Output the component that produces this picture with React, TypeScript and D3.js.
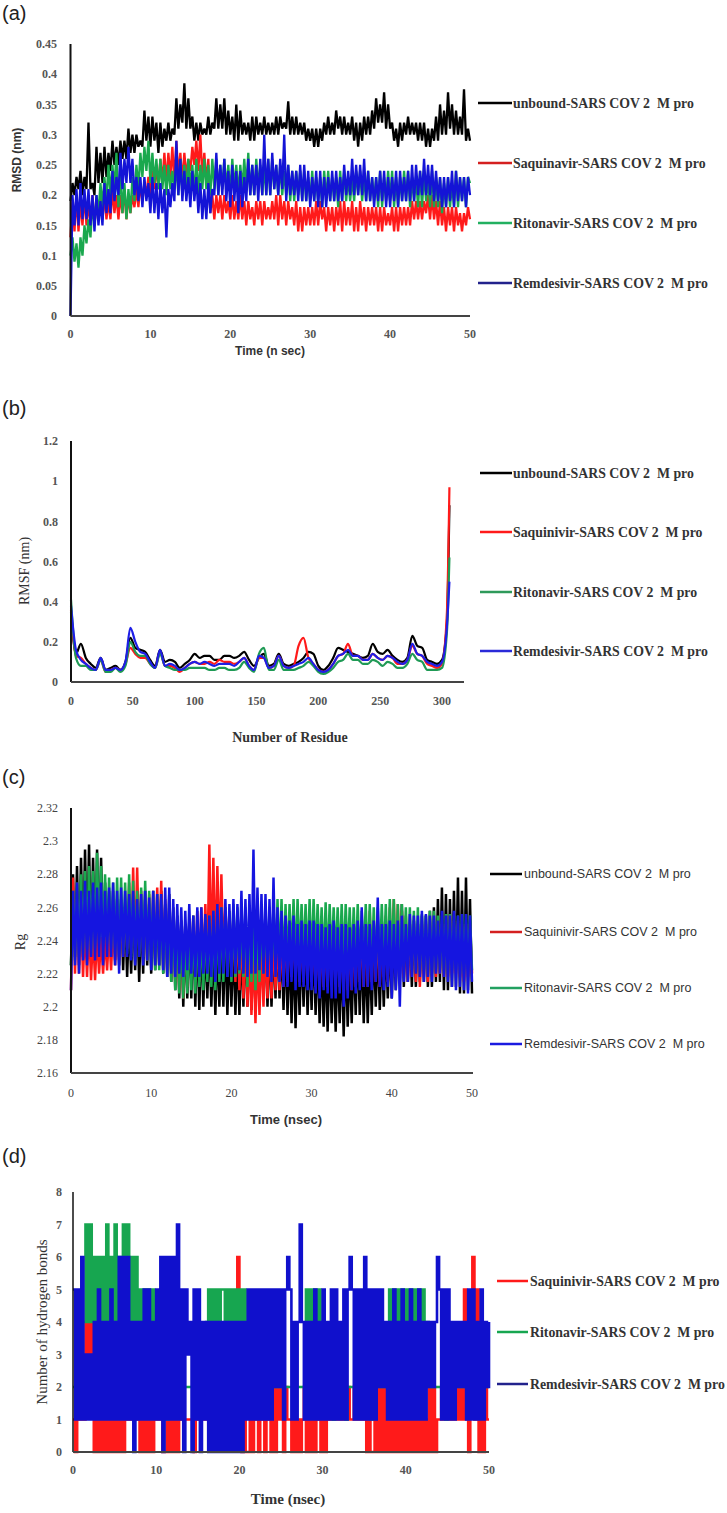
import React from 'react';
import * as d3 from 'd3';

// ---------------- Panel (a) RMSD : time 0..50 ns every 0.25 ns ----------------
const rmsdTime = d3.range(0, 50.001, 0.25);
const rmsdUnbound = [
  0.19, 0.22, 0.20, 0.23, 0.21, 0.24, 0.20, 0.23, 0.21, 0.32, 0.21, 0.22, 0.20, 0.28, 0.22, 0.27, 0.22, 0.28, 0.23, 0.27,
  0.24, 0.29, 0.25, 0.28, 0.25, 0.29, 0.26, 0.29, 0.26, 0.31, 0.27, 0.30, 0.27, 0.30, 0.28, 0.29, 0.28, 0.34, 0.29, 0.33,
  0.28, 0.33, 0.29, 0.32, 0.27, 0.32, 0.28, 0.31, 0.29, 0.32, 0.29, 0.31, 0.30, 0.36, 0.31, 0.35, 0.32, 0.385, 0.31, 0.36,
  0.31, 0.33, 0.29, 0.32, 0.29, 0.32, 0.30, 0.31, 0.30, 0.33, 0.30, 0.32, 0.31, 0.36, 0.31, 0.35, 0.31, 0.36, 0.30, 0.34,
  0.30, 0.33, 0.29, 0.35, 0.29, 0.34, 0.30, 0.32, 0.30, 0.32, 0.29, 0.33, 0.29, 0.33, 0.30, 0.32, 0.30, 0.33, 0.30, 0.32,
  0.30, 0.32, 0.30, 0.33, 0.30, 0.33, 0.31, 0.32, 0.31, 0.355, 0.30, 0.33, 0.30, 0.33, 0.30, 0.32, 0.30, 0.32, 0.29, 0.31,
  0.29, 0.31, 0.28, 0.31, 0.28, 0.31, 0.29, 0.32, 0.30, 0.33, 0.30, 0.32, 0.30, 0.34, 0.31, 0.33, 0.30, 0.33, 0.30, 0.32,
  0.30, 0.33, 0.29, 0.32, 0.28, 0.32, 0.29, 0.33, 0.30, 0.33, 0.30, 0.34, 0.31, 0.36, 0.32, 0.35, 0.32, 0.37, 0.31, 0.35,
  0.31, 0.32, 0.29, 0.31, 0.28, 0.32, 0.29, 0.32, 0.30, 0.33, 0.30, 0.32, 0.30, 0.32, 0.29, 0.32, 0.29, 0.32, 0.28, 0.31,
  0.28, 0.31, 0.29, 0.33, 0.29, 0.35, 0.30, 0.34, 0.30, 0.37, 0.31, 0.35, 0.30, 0.34, 0.30, 0.33, 0.30, 0.375, 0.29, 0.31,
  0.29,
];
const rmsdSaquinavir = [
  0.13, 0.19, 0.14, 0.20, 0.14, 0.19, 0.15, 0.20, 0.15, 0.19, 0.15, 0.20, 0.15, 0.19, 0.16, 0.20, 0.16, 0.20, 0.16, 0.19,
  0.16, 0.21, 0.17, 0.20, 0.16, 0.20, 0.17, 0.21, 0.16, 0.20, 0.17, 0.20, 0.18, 0.21, 0.18, 0.22, 0.19, 0.22, 0.20, 0.23,
  0.20, 0.24, 0.21, 0.25, 0.21, 0.26, 0.22, 0.27, 0.22, 0.27, 0.23, 0.28, 0.22, 0.29, 0.23, 0.27, 0.22, 0.27, 0.23, 0.26,
  0.24, 0.28, 0.25, 0.29, 0.24, 0.30, 0.23, 0.27, 0.22, 0.26, 0.17, 0.20, 0.16, 0.20, 0.17, 0.20, 0.16, 0.20, 0.17, 0.19,
  0.16, 0.20, 0.16, 0.19, 0.16, 0.20, 0.16, 0.19, 0.15, 0.19, 0.16, 0.18, 0.15, 0.19, 0.16, 0.19, 0.15, 0.19, 0.16, 0.18,
  0.16, 0.19, 0.16, 0.20, 0.15, 0.20, 0.16, 0.19, 0.15, 0.19, 0.16, 0.18, 0.15, 0.19, 0.14, 0.18, 0.14, 0.18, 0.15, 0.18,
  0.15, 0.18, 0.15, 0.19, 0.15, 0.19, 0.16, 0.18, 0.14, 0.18, 0.15, 0.18, 0.14, 0.18, 0.15, 0.19, 0.14, 0.19, 0.15, 0.18,
  0.15, 0.19, 0.14, 0.18, 0.14, 0.19, 0.15, 0.18, 0.14, 0.18, 0.15, 0.18, 0.15, 0.18, 0.14, 0.18, 0.14, 0.18, 0.15, 0.17,
  0.15, 0.18, 0.14, 0.18, 0.14, 0.18, 0.15, 0.18, 0.15, 0.18, 0.15, 0.19, 0.16, 0.19, 0.16, 0.19, 0.16, 0.19, 0.17, 0.20,
  0.16, 0.20, 0.16, 0.19, 0.15, 0.19, 0.15, 0.18, 0.14, 0.18, 0.15, 0.18, 0.14, 0.18, 0.15, 0.17, 0.14, 0.17, 0.15, 0.18,
  0.16,
];
const rmsdRitonavir = [
  0.10, 0.13, 0.09, 0.12, 0.08, 0.13, 0.10, 0.15, 0.12, 0.16, 0.13, 0.19, 0.15, 0.20, 0.17, 0.22, 0.18, 0.23, 0.19, 0.25,
  0.20, 0.25, 0.21, 0.27, 0.18, 0.24, 0.17, 0.22, 0.16, 0.21, 0.17, 0.23, 0.19, 0.25, 0.21, 0.27, 0.23, 0.28, 0.24, 0.29,
  0.22, 0.27, 0.22, 0.26, 0.21, 0.26, 0.21, 0.25, 0.20, 0.25, 0.21, 0.24, 0.21, 0.25, 0.20, 0.26, 0.20, 0.25, 0.21, 0.26,
  0.21, 0.25, 0.20, 0.26, 0.20, 0.25, 0.21, 0.26, 0.21, 0.25, 0.20, 0.26, 0.21, 0.26, 0.20, 0.25, 0.21, 0.26, 0.21, 0.25,
  0.20, 0.26, 0.21, 0.25, 0.20, 0.25, 0.21, 0.26, 0.21, 0.27, 0.20, 0.25, 0.20, 0.26, 0.21, 0.25, 0.20, 0.25, 0.20, 0.26,
  0.20, 0.26, 0.21, 0.25, 0.20, 0.25, 0.20, 0.24, 0.20, 0.25, 0.19, 0.24, 0.19, 0.24, 0.20, 0.24, 0.19, 0.24, 0.19, 0.23,
  0.19, 0.24, 0.19, 0.23, 0.19, 0.23, 0.18, 0.24, 0.19, 0.24, 0.19, 0.23, 0.19, 0.23, 0.18, 0.24, 0.19, 0.24, 0.19, 0.23,
  0.19, 0.23, 0.19, 0.24, 0.20, 0.24, 0.19, 0.23, 0.19, 0.24, 0.19, 0.23, 0.19, 0.23, 0.18, 0.24, 0.18, 0.23, 0.19, 0.24,
  0.19, 0.24, 0.18, 0.23, 0.18, 0.23, 0.19, 0.24, 0.19, 0.24, 0.18, 0.23, 0.19, 0.23, 0.18, 0.24, 0.18, 0.24, 0.19, 0.23,
  0.18, 0.24, 0.18, 0.23, 0.18, 0.23, 0.17, 0.22, 0.18, 0.23, 0.18, 0.22, 0.18, 0.24, 0.18, 0.23, 0.19, 0.23, 0.18, 0.23,
  0.22,
];
const rmsdRemdesivir = [
  0.00, 0.20, 0.15, 0.21, 0.15, 0.22, 0.16, 0.21, 0.16, 0.21, 0.15, 0.20, 0.14, 0.20, 0.15, 0.19, 0.15, 0.22, 0.17, 0.21,
  0.17, 0.24, 0.19, 0.23, 0.20, 0.27, 0.21, 0.26, 0.22, 0.28, 0.22, 0.26, 0.20, 0.23, 0.19, 0.23, 0.18, 0.23, 0.19, 0.22,
  0.17, 0.23, 0.17, 0.22, 0.16, 0.22, 0.17, 0.21, 0.13, 0.21, 0.18, 0.22, 0.19, 0.29, 0.20, 0.26, 0.19, 0.24, 0.19, 0.23,
  0.18, 0.24, 0.19, 0.23, 0.17, 0.22, 0.16, 0.21, 0.16, 0.22, 0.17, 0.21, 0.20, 0.27, 0.20, 0.25, 0.20, 0.26, 0.19, 0.24,
  0.18, 0.25, 0.19, 0.24, 0.17, 0.24, 0.18, 0.23, 0.19, 0.26, 0.20, 0.25, 0.20, 0.25, 0.19, 0.26, 0.20, 0.30, 0.20, 0.26,
  0.20, 0.27, 0.21, 0.25, 0.20, 0.26, 0.21, 0.30, 0.19, 0.25, 0.20, 0.24, 0.20, 0.24, 0.19, 0.25, 0.19, 0.25, 0.19, 0.24,
  0.18, 0.23, 0.19, 0.24, 0.18, 0.24, 0.18, 0.23, 0.18, 0.23, 0.19, 0.24, 0.19, 0.24, 0.19, 0.23, 0.19, 0.25, 0.20, 0.24,
  0.20, 0.26, 0.20, 0.25, 0.20, 0.25, 0.20, 0.26, 0.19, 0.24, 0.19, 0.23, 0.18, 0.23, 0.19, 0.24, 0.19, 0.24, 0.18, 0.23,
  0.18, 0.23, 0.19, 0.24, 0.18, 0.24, 0.19, 0.23, 0.19, 0.24, 0.19, 0.25, 0.19, 0.25, 0.20, 0.24, 0.20, 0.26, 0.20, 0.25,
  0.20, 0.25, 0.19, 0.24, 0.19, 0.23, 0.18, 0.23, 0.18, 0.23, 0.19, 0.24, 0.18, 0.24, 0.19, 0.23, 0.19, 0.23, 0.18, 0.23,
  0.20,
];
const rmsdYTicks = [0, 0.05, 0.1, 0.15, 0.2, 0.25, 0.3, 0.35, 0.4, 0.45];
const rmsdYLabels = ['0', '0.05', '0.1', '0.15', '0.2', '0.25', '0.3', '0.35', '0.4', '0.45'];
const timeTicks = [0, 10, 20, 30, 40, 50];
const timeLabels = ['0', '10', '20', '30', '40', '50'];

// ---------------- Panel (b) RMSF : residue ----------------
const rmsfResidue = [...d3.range(0, 305, 4), 306];
const rmsfUnbound = [
  0.35, 0.14, 0.19, 0.12, 0.09, 0.07, 0.12, 0.06, 0.07, 0.08,
  0.06, 0.10, 0.22, 0.17, 0.16, 0.15, 0.11, 0.08, 0.16, 0.10,
  0.11, 0.10, 0.07, 0.09, 0.11, 0.14, 0.12, 0.13, 0.13, 0.11,
  0.11, 0.13, 0.13, 0.12, 0.13, 0.15, 0.11, 0.08, 0.12, 0.14,
  0.08, 0.09, 0.14, 0.09, 0.08, 0.09, 0.10, 0.12, 0.15, 0.14,
  0.08, 0.06, 0.08, 0.12, 0.17, 0.16, 0.15, 0.14, 0.13, 0.12,
  0.13, 0.19, 0.15, 0.14, 0.16, 0.13, 0.11, 0.10, 0.12, 0.23,
  0.18, 0.17, 0.11, 0.10, 0.09, 0.11, 0.30, 0.88,
];
const rmsfSaquinivir = [
  0.36, 0.13, 0.12, 0.09, 0.07, 0.06, 0.11, 0.05, 0.06, 0.07,
  0.06, 0.09, 0.17, 0.14, 0.12, 0.12, 0.09, 0.07, 0.15, 0.08,
  0.08, 0.07, 0.05, 0.07, 0.09, 0.10, 0.09, 0.09, 0.10, 0.09,
  0.11, 0.10, 0.10, 0.09, 0.10, 0.12, 0.08, 0.06, 0.12, 0.12,
  0.07, 0.08, 0.13, 0.08, 0.07, 0.08, 0.18, 0.22, 0.12, 0.09,
  0.06, 0.05, 0.06, 0.09, 0.13, 0.14, 0.19, 0.13, 0.13, 0.11,
  0.11, 0.14, 0.12, 0.11, 0.13, 0.12, 0.09, 0.09, 0.11, 0.18,
  0.14, 0.13, 0.09, 0.08, 0.07, 0.09, 0.35, 0.97,
];
const rmsfRitonavir = [
  0.41, 0.12, 0.08, 0.08, 0.06, 0.06, 0.11, 0.05, 0.05, 0.07,
  0.05, 0.08, 0.20, 0.15, 0.13, 0.13, 0.09, 0.07, 0.14, 0.08,
  0.07, 0.06, 0.06, 0.06, 0.07, 0.07, 0.07, 0.07, 0.06, 0.06,
  0.07, 0.07, 0.06, 0.06, 0.07, 0.10, 0.07, 0.05, 0.14, 0.17,
  0.06, 0.06, 0.11, 0.06, 0.06, 0.06, 0.07, 0.08, 0.10, 0.08,
  0.05, 0.04, 0.05, 0.07, 0.10, 0.11, 0.14, 0.11, 0.11, 0.09,
  0.09, 0.11, 0.10, 0.08, 0.10, 0.09, 0.07, 0.07, 0.09, 0.14,
  0.11, 0.10, 0.06, 0.06, 0.06, 0.07, 0.25, 0.62,
];
const rmsfRemdesivir = [
  0.38, 0.16, 0.11, 0.09, 0.07, 0.06, 0.12, 0.06, 0.06, 0.07,
  0.06, 0.10, 0.27, 0.20, 0.15, 0.14, 0.10, 0.07, 0.16, 0.08,
  0.09, 0.08, 0.06, 0.07, 0.09, 0.10, 0.09, 0.10, 0.09, 0.08,
  0.09, 0.09, 0.09, 0.08, 0.10, 0.12, 0.08, 0.06, 0.13, 0.12,
  0.07, 0.08, 0.13, 0.08, 0.07, 0.08, 0.09, 0.10, 0.12, 0.09,
  0.06, 0.05, 0.06, 0.09, 0.13, 0.14, 0.16, 0.13, 0.13, 0.11,
  0.11, 0.14, 0.12, 0.11, 0.13, 0.12, 0.10, 0.09, 0.11, 0.19,
  0.14, 0.13, 0.10, 0.09, 0.08, 0.10, 0.28, 0.50,
];
const rmsfYTicks = [0, 0.2, 0.4, 0.6, 0.8, 1, 1.2];
const rmsfYLabels = ['0', '0.2', '0.4', '0.6', '0.8', '1', '1.2'];
const residueTicks = [0, 50, 100, 150, 200, 250, 300];
const residueLabels = ['0', '50', '100', '150', '200', '250', '300'];

// ---------------- Panel (c) Rg : time every 0.25 ns ----------------
const rgTime = d3.range(0, 50.001, 0.25);
const rgUnbound = [
  2.225, 2.28, 2.23, 2.285, 2.225, 2.29, 2.23, 2.295, 2.23, 2.298, 2.232, 2.29, 2.23, 2.295, 2.235, 2.29, 2.235, 2.275, 2.23, 2.27,
  2.23, 2.27, 2.228, 2.265, 2.225, 2.265, 2.222, 2.26, 2.218, 2.255, 2.22, 2.26, 2.222, 2.26, 2.215, 2.258, 2.22, 2.27, 2.225, 2.262,
  2.22, 2.26, 2.222, 2.258, 2.225, 2.27, 2.22, 2.262, 2.218, 2.268, 2.215, 2.26, 2.21, 2.255, 2.205, 2.25, 2.2, 2.245, 2.205, 2.25,
  2.205, 2.25, 2.2, 2.245, 2.198, 2.245, 2.2, 2.242, 2.205, 2.245, 2.2, 2.24, 2.195, 2.24, 2.2, 2.245, 2.2, 2.245, 2.195, 2.24,
  2.2, 2.24, 2.195, 2.238, 2.195, 2.24, 2.2, 2.242, 2.2, 2.245, 2.198, 2.24, 2.2, 2.24, 2.205, 2.245, 2.205, 2.245, 2.2, 2.24,
  2.2, 2.24, 2.205, 2.245, 2.205, 2.24, 2.198, 2.24, 2.195, 2.24, 2.19, 2.238, 2.187, 2.235, 2.195, 2.24, 2.2, 2.24, 2.195, 2.238,
  2.198, 2.24, 2.195, 2.236, 2.19, 2.235, 2.188, 2.232, 2.185, 2.235, 2.19, 2.23, 2.185, 2.23, 2.19, 2.235, 2.182, 2.235, 2.188, 2.23,
  2.19, 2.235, 2.195, 2.24, 2.195, 2.24, 2.19, 2.235, 2.19, 2.235, 2.195, 2.24, 2.2, 2.24, 2.198, 2.238, 2.2, 2.24, 2.205, 2.242,
  2.205, 2.245, 2.21, 2.25, 2.215, 2.262, 2.212, 2.25, 2.215, 2.25, 2.212, 2.252, 2.212, 2.25, 2.215, 2.255, 2.215, 2.255, 2.212, 2.258,
  2.212, 2.26, 2.215, 2.265, 2.215, 2.272, 2.21, 2.268, 2.21, 2.265, 2.212, 2.27, 2.212, 2.278, 2.208, 2.27, 2.208, 2.278, 2.21, 2.265,
  2.208,
];
const rgSaquinivir = [
  2.21, 2.278, 2.22, 2.265, 2.22, 2.26, 2.218, 2.25, 2.218, 2.25, 2.216, 2.245, 2.216, 2.245, 2.22, 2.242, 2.22, 2.242, 2.222, 2.245,
  2.222, 2.25, 2.225, 2.252, 2.228, 2.255, 2.23, 2.26, 2.235, 2.275, 2.232, 2.284, 2.23, 2.284, 2.232, 2.27, 2.23, 2.265, 2.228, 2.268,
  2.23, 2.27, 2.228, 2.272, 2.225, 2.276, 2.222, 2.265, 2.222, 2.26, 2.218, 2.255, 2.215, 2.25, 2.21, 2.252, 2.205, 2.25, 2.212, 2.252,
  2.22, 2.255, 2.215, 2.258, 2.215, 2.26, 2.22, 2.262, 2.22, 2.298, 2.225, 2.29, 2.225, 2.285, 2.23, 2.28, 2.23, 2.26, 2.225, 2.258,
  2.22, 2.255, 2.215, 2.252, 2.21, 2.25, 2.205, 2.245, 2.2, 2.24, 2.195, 2.238, 2.19, 2.235, 2.195, 2.24, 2.2, 2.24, 2.205, 2.242,
  2.205, 2.245, 2.21, 2.245, 2.21, 2.245, 2.212, 2.248, 2.215, 2.25, 2.218, 2.25, 2.22, 2.25, 2.215, 2.25, 2.215, 2.25, 2.218, 2.25,
  2.215, 2.25, 2.212, 2.248, 2.21, 2.245, 2.212, 2.248, 2.212, 2.25, 2.215, 2.25, 2.215, 2.25, 2.212, 2.248, 2.212, 2.25, 2.21, 2.248,
  2.21, 2.245, 2.212, 2.25, 2.215, 2.25, 2.212, 2.252, 2.212, 2.258, 2.215, 2.252, 2.215, 2.25, 2.212, 2.252, 2.218, 2.255, 2.215, 2.26,
  2.22, 2.265, 2.218, 2.262, 2.22, 2.258, 2.218, 2.255, 2.215, 2.25, 2.218, 2.252, 2.215, 2.25, 2.212, 2.25, 2.218, 2.25, 2.215, 2.252,
  2.22, 2.25, 2.218, 2.252, 2.22, 2.25, 2.218, 2.25, 2.218, 2.255, 2.22, 2.252, 2.22, 2.252, 2.218, 2.25, 2.215, 2.25, 2.218, 2.25,
  2.22,
];
const rgRitonavir = [
  2.225, 2.27, 2.228, 2.275, 2.23, 2.28, 2.232, 2.282, 2.235, 2.285, 2.232, 2.282, 2.235, 2.293, 2.238, 2.285, 2.24, 2.28, 2.238, 2.278,
  2.235, 2.275, 2.232, 2.278, 2.23, 2.278, 2.232, 2.275, 2.232, 2.28, 2.23, 2.276, 2.228, 2.27, 2.23, 2.272, 2.23, 2.276, 2.228, 2.27,
  2.225, 2.27, 2.222, 2.268, 2.222, 2.265, 2.22, 2.262, 2.22, 2.26, 2.215, 2.258, 2.21, 2.255, 2.208, 2.252, 2.205, 2.25, 2.208, 2.252,
  2.21, 2.255, 2.208, 2.252, 2.212, 2.25, 2.21, 2.255, 2.215, 2.255, 2.212, 2.258, 2.21, 2.258, 2.215, 2.26, 2.215, 2.26, 2.218, 2.258,
  2.215, 2.262, 2.218, 2.26, 2.22, 2.258, 2.218, 2.26, 2.212, 2.26, 2.215, 2.258, 2.21, 2.255, 2.215, 2.258, 2.22, 2.258, 2.222, 2.26,
  2.22, 2.262, 2.222, 2.265, 2.225, 2.265, 2.222, 2.262, 2.225, 2.262, 2.228, 2.265, 2.225, 2.265, 2.228, 2.262, 2.228, 2.262, 2.225, 2.265,
  2.225, 2.265, 2.228, 2.262, 2.228, 2.26, 2.225, 2.263, 2.225, 2.262, 2.228, 2.26, 2.228, 2.26, 2.225, 2.262, 2.225, 2.262, 2.228, 2.26,
  2.225, 2.26, 2.225, 2.262, 2.225, 2.258, 2.228, 2.262, 2.225, 2.262, 2.222, 2.26, 2.222, 2.26, 2.225, 2.262, 2.225, 2.262, 2.222, 2.265,
  2.225, 2.265, 2.222, 2.262, 2.222, 2.262, 2.225, 2.26, 2.225, 2.26, 2.222, 2.258, 2.222, 2.26, 2.22, 2.256, 2.222, 2.255, 2.22, 2.258,
  2.22, 2.258, 2.222, 2.255, 2.222, 2.255, 2.22, 2.256, 2.22, 2.256, 2.222, 2.255, 2.222, 2.255, 2.22, 2.256, 2.22, 2.256, 2.222, 2.255,
  2.222,
];
const rgRemdesivir = [
  2.21, 2.27, 2.225, 2.275, 2.22, 2.27, 2.228, 2.276, 2.225, 2.27, 2.23, 2.275, 2.228, 2.272, 2.23, 2.275, 2.225, 2.27, 2.23, 2.272,
  2.23, 2.275, 2.225, 2.27, 2.22, 2.272, 2.23, 2.27, 2.23, 2.268, 2.228, 2.27, 2.225, 2.265, 2.23, 2.268, 2.225, 2.27, 2.228, 2.266,
  2.222, 2.27, 2.225, 2.268, 2.225, 2.268, 2.222, 2.272, 2.218, 2.272, 2.22, 2.265, 2.218, 2.262, 2.22, 2.26, 2.218, 2.258, 2.222, 2.262,
  2.22, 2.255, 2.218, 2.26, 2.218, 2.26, 2.22, 2.256, 2.22, 2.255, 2.218, 2.258, 2.215, 2.262, 2.22, 2.26, 2.22, 2.265, 2.218, 2.262,
  2.218, 2.265, 2.22, 2.262, 2.222, 2.27, 2.22, 2.265, 2.218, 2.268, 2.22, 2.295, 2.22, 2.272, 2.222, 2.268, 2.22, 2.268, 2.218, 2.265,
  2.215, 2.278, 2.218, 2.26, 2.215, 2.258, 2.212, 2.255, 2.212, 2.252, 2.215, 2.255, 2.21, 2.25, 2.212, 2.252, 2.212, 2.25, 2.21, 2.252,
  2.21, 2.252, 2.208, 2.25, 2.205, 2.25, 2.21, 2.248, 2.208, 2.25, 2.205, 2.252, 2.205, 2.248, 2.208, 2.25, 2.2, 2.25, 2.205, 2.248,
  2.21, 2.25, 2.208, 2.252, 2.21, 2.26, 2.212, 2.25, 2.212, 2.25, 2.21, 2.252, 2.215, 2.266, 2.212, 2.25, 2.21, 2.25, 2.212, 2.252,
  2.205, 2.25, 2.21, 2.252, 2.2, 2.255, 2.215, 2.25, 2.215, 2.256, 2.218, 2.255, 2.22, 2.255, 2.218, 2.258, 2.215, 2.256, 2.218, 2.255,
  2.215, 2.255, 2.22, 2.252, 2.22, 2.258, 2.218, 2.255, 2.215, 2.255, 2.212, 2.258, 2.21, 2.255, 2.212, 2.256, 2.21, 2.256, 2.208, 2.255,
  2.215,
];
const rgYTicks = [2.16, 2.18, 2.2, 2.22, 2.24, 2.26, 2.28, 2.3, 2.32];
const rgYLabels = ['2.16', '2.18', '2.2', '2.22', '2.24', '2.26', '2.28', '2.3', '2.32'];

// ---------------- Panel (d) H-bonds : time every 0.25 ns ----------------
const hbTime = d3.range(0, 50.001, 0.25);
const hbSaquinivir = [
  1, 0, 1, 1, 1, 1, 4, 3, 4, 3, 0, 1, 0, 2, 0, 1, 0, 1, 0, 1, 0, 1, 0, 1, 0, 2, 1, 1, 1, 1, 1, 1, 0, 1, 0, 1, 0, 1, 0, 1,
  1, 1, 2, 0, 0, 1, 0, 1, 0, 1, 0, 1, 1, 1, 1, 1, 1, 1, 0, 1, 1, 1, 1, 1, 1, 1, 1, 1, 1, 1, 1, 1, 1, 2, 1, 1, 1, 2, 1, 6,
  1, 0, 1, 0, 0, 1, 0, 1, 1, 0, 1, 2, 0, 1, 1, 0, 2, 0, 2, 1, 2, 0, 2, 1, 1, 0, 1, 0, 1, 0, 1, 2, 0, 1, 0, 2, 0, 1, 2, 0,
  1, 0, 2, 1, 2, 1, 2, 1, 1, 1, 2, 1, 2, 1, 1, 2, 1, 1, 2, 1, 1, 0, 1, 0, 0, 2, 0, 2, 0, 2, 0, 1, 0, 2, 0, 1, 0, 2, 0, 2,
  0, 2, 0, 1, 0, 2, 0, 2, 0, 1, 0, 2, 0, 2, 0, 1, 1, 2, 1, 2, 1, 2, 1, 1, 2, 1, 2, 1, 5, 1, 0, 2, 6, 1, 5, 0, 2, 0, 2, 1,
  1,
];
const hbRitonavir = [
  2, 2, 2, 2, 4, 4, 7, 4, 7, 4, 6, 4, 6, 4, 6, 4, 7, 4, 6, 4, 7, 4, 6, 4, 7, 4, 7, 4, 6, 4, 6, 4, 5, 4, 5, 4, 5, 4, 5, 4,
  2, 2, 2, 2, 2, 1, 2, 2, 2, 2, 2, 2, 2, 2, 2, 2, 2, 2, 2, 2, 2, 2, 2, 2, 4, 5, 3, 5, 1, 5, 4, 5, 5, 4, 5, 4, 5, 4, 5, 4,
  5, 4, 5, 4, 2, 2, 2, 2, 2, 2, 2, 2, 2, 2, 2, 2, 2, 2, 2, 2, 2, 2, 2, 2, 2, 2, 2, 2, 2, 2, 2, 2, 5, 4, 5, 4, 5, 4, 5, 4,
  2, 2, 2, 2, 2, 1, 2, 2, 2, 2, 2, 1, 2, 2, 2, 2, 2, 2, 2, 2, 2, 2, 2, 1, 2, 2, 2, 2, 2, 2, 2, 2, 5, 4, 5, 4, 5, 4, 5, 4,
  5, 4, 5, 4, 5, 4, 5, 4, 5, 4, 4, 2, 2, 2, 2, 2, 2, 2, 2, 1, 2, 2, 2, 2, 2, 2, 2, 2, 2, 2, 2, 2, 2, 2, 2, 2, 2, 2, 2, 2,
  2,
];
const hbRemdesivir = [
  5, 1, 5, 1, 6, 1, 3, 1, 3, 1, 4, 1, 5, 1, 4, 1, 4, 1, 5, 1, 4, 1, 6, 1, 6, 1, 6, 1, 4, 0, 4, 1, 4, 1, 5, 1, 5, 1, 4, 1,
  5, 1, 6, 0, 6, 1, 6, 1, 6, 1, 7, 1, 5, 0, 5, 3, 4, 0, 5, 1, 5, 0, 4, 1, 4, 0, 4, 0, 4, 0, 4, 0, 4, 0, 4, 0, 4, 0, 4, 0,
  4, 0, 4, 1, 5, 1, 5, 1, 5, 1, 5, 1, 5, 1, 5, 1, 5, 2, 5, 2, 5, 1, 5, 6, 5, 1, 4, 1, 4, 7, 4, 1, 4, 1, 4, 1, 5, 1, 4, 1,
  5, 1, 4, 1, 5, 1, 5, 1, 4, 1, 5, 1, 5, 6, 5, 1, 5, 1, 5, 1, 6, 1, 5, 1, 5, 1, 5, 2, 5, 2, 4, 1, 4, 1, 5, 1, 4, 1, 5, 1,
  4, 1, 5, 1, 4, 1, 5, 1, 4, 1, 4, 2, 4, 2, 4, 6, 5, 1, 5, 1, 5, 1, 4, 1, 4, 2, 4, 2, 4, 1, 5, 1, 5, 1, 4, 1, 5, 1, 4, 2,
  4,
];
const hbYTicks = [0, 1, 2, 3, 4, 5, 6, 7, 8];
const hbYLabels = ['0', '1', '2', '3', '4', '5', '6', '7', '8'];

const NAME_UNBOUND = 'unbound-SARS COV 2  M pro';
const NAME_SAQ_A = 'Saquinavir-SARS COV 2  M pro';
const NAME_SAQ = 'Saquinivir-SARS COV 2  M pro';
const NAME_RIT = 'Ritonavir-SARS COV 2  M pro';
const NAME_REM = 'Remdesivir-SARS COV 2  M pro';

const SERIF = '"Liberation Serif", "Times New Roman", serif';
const SANS = '"Liberation Sans", Arial, sans-serif';

type S = { name: string; values: number[]; color: string };

interface Cfg {
  label: string; labelY: number;
  xs: number[]; series: S[];
  xDomain: [number, number]; xRange: [number, number]; xAxisEnd: number;
  yDomain: [number, number]; yRange: [number, number];
  yTicks: number[]; yLabels: string[]; yTickX: number;
  xTicks: number[]; xLabels: string[]; xTickY: number;
  tickFont: string; tickWeight: number; tickSize: number; tickColor: string;
  xTitle: { text: string; x: number; y: number; font: string; size: number; weight: number };
  yTitle: { text: string; x: number; y: number; font: string; size: number; weight: number };
  legend: { x1: number; x2: number; tx: number; ys: number[]; font: string; size: number; weight: number; names: string[]; colors: string[] };
  strokeWidth: number; curve: d3.CurveFactory; yAxisWidth: number;
}

function Panel({ c }: { c: Cfg }) {
  const x = d3.scaleLinear().domain(c.xDomain).range(c.xRange);
  const y = d3.scaleLinear().domain(c.yDomain).range(c.yRange);
  const line = d3.line<number>().x((_, i) => x(c.xs[i])).y((d) => y(d)).curve(c.curve);
  const x0 = c.xRange[0];
  const yb = c.yRange[0];
  const yt = c.yRange[1];
  return (
    <g>
      <text x={2} y={c.labelY} fontFamily={SANS} fontSize={20} fill="#222">{c.label}</text>
      {c.series.map((s) => (
        <path key={s.name} d={line(s.values) || ''} fill="none" stroke={s.color} strokeWidth={c.strokeWidth} strokeLinejoin="miter" strokeMiterlimit={2} />
      ))}
      <line x1={x0} x2={x0} y1={yt} y2={yb} stroke="#111" strokeWidth={c.yAxisWidth} />
      <line x1={x0} x2={c.xAxisEnd} y1={yb} y2={yb} stroke="#444" strokeWidth={2} />
      {c.yTicks.map((t, i) => (
        <text key={'y' + i} x={c.yTickX} y={y(t)} dy="0.35em" textAnchor="end" fontFamily={c.tickFont} fontSize={c.tickSize} fontWeight={c.tickWeight} fill={c.tickColor}>{c.yLabels[i]}</text>
      ))}
      {c.xTicks.map((t, i) => (
        <text key={'x' + i} x={x(t)} y={c.xTickY} textAnchor="middle" fontFamily={c.tickFont} fontSize={c.tickSize} fontWeight={c.tickWeight} fill={c.tickColor}>{c.xLabels[i]}</text>
      ))}
      <text x={c.xTitle.x} y={c.xTitle.y} textAnchor="middle" fontFamily={c.xTitle.font} fontSize={c.xTitle.size} fontWeight={c.xTitle.weight} fill="#333">{c.xTitle.text}</text>
      <text transform={`translate(${c.yTitle.x},${c.yTitle.y}) rotate(-90)`} textAnchor="middle" dy="0.35em" fontFamily={c.yTitle.font} fontSize={c.yTitle.size} fontWeight={c.yTitle.weight} fill="#333">{c.yTitle.text}</text>
      {c.legend.names.map((n, i) => (
        <g key={'l' + i}>
          <line x1={c.legend.x1} x2={c.legend.x2} y1={c.legend.ys[i]} y2={c.legend.ys[i]} stroke={c.legend.colors[i]} strokeWidth={2.5} />
          <text x={c.legend.tx} y={c.legend.ys[i]} dy="0.35em" fontFamily={c.legend.font} fontSize={c.legend.size} fontWeight={c.legend.weight} fill="#333" style={{ whiteSpace: 'pre' }}>{n}</text>
        </g>
      ))}
    </g>
  );
}

const RED = '#ff1a1a';
const GREEN = '#1aa84e';
const BLUE = '#1414d6';
const NAVY = '#22228c';

export default function App() {
  const a: Cfg = {
    label: '(a)', labelY: 20,
    xs: rmsdTime,
    series: [
      { name: 'ub', values: rmsdUnbound, color: '#000' },
      { name: 'sq', values: rmsdSaquinavir, color: RED },
      { name: 'rt', values: rmsdRitonavir, color: GREEN },
      { name: 'rm', values: rmsdRemdesivir, color: BLUE },
    ],
    xDomain: [0, 50], xRange: [70.5, 470], xAxisEnd: 470,
    yDomain: [0, 0.45], yRange: [316, 44],
    yTicks: rmsdYTicks, yLabels: rmsdYLabels, yTickX: 57,
    xTicks: timeTicks, xLabels: timeLabels, xTickY: 338,
    tickFont: SERIF, tickWeight: 700, tickSize: 12, tickColor: '#555',
    xTitle: { text: 'Time (n sec)', x: 270, y: 355, font: SANS, size: 12, weight: 700 },
    yTitle: { text: 'RMSD (nm)', x: 17, y: 160, font: SANS, size: 12, weight: 700 },
    legend: { x1: 478, x2: 512, tx: 513, ys: [103, 163, 223, 283], font: SERIF, size: 13.8, weight: 700, names: [NAME_UNBOUND, NAME_SAQ_A, NAME_RIT, NAME_REM], colors: ['#000', '#d42020', '#22b060', NAVY] },
    strokeWidth: 2.3, curve: d3.curveLinear, yAxisWidth: 2,
  };
  const b: Cfg = {
    label: '(b)', labelY: 415,
    xs: rmsfResidue,
    series: [
      { name: 'ub', values: rmsfUnbound, color: '#000' },
      { name: 'sq', values: rmsfSaquinivir, color: RED },
      { name: 'rt', values: rmsfRitonavir, color: '#1f9a55' },
      { name: 'rm', values: rmsfRemdesivir, color: '#1e1ee6' },
    ],
    xDomain: [0, 300], xRange: [71, 442], xAxisEnd: 464,
    yDomain: [0, 1.2], yRange: [682, 441],
    yTicks: rmsfYTicks, yLabels: rmsfYLabels, yTickX: 58,
    xTicks: residueTicks, xLabels: residueLabels, xTickY: 705,
    tickFont: SERIF, tickWeight: 700, tickSize: 12, tickColor: '#555',
    xTitle: { text: 'Number of Residue', x: 290, y: 742, font: SERIF, size: 14, weight: 700 },
    yTitle: { text: 'RMSF (nm)', x: 24, y: 571, font: SERIF, size: 14, weight: 400 },
    legend: { x1: 480, x2: 512, tx: 513, ys: [473, 532, 592, 651], font: SERIF, size: 13.8, weight: 700, names: [NAME_UNBOUND, NAME_SAQ, NAME_RIT, NAME_REM], colors: ['#000', RED, '#2e9a5a', '#2a2ad8'] },
    strokeWidth: 2.2, curve: d3.curveMonotoneX, yAxisWidth: 2,
  };
  const c: Cfg = {
    label: '(c)', labelY: 784,
    xs: rgTime,
    series: [
      { name: 'ub', values: rgUnbound, color: '#000' },
      { name: 'sq', values: rgSaquinivir, color: RED },
      { name: 'rt', values: rgRitonavir, color: GREEN },
      { name: 'rm', values: rgRemdesivir, color: '#1515e0' },
    ],
    xDomain: [0, 50], xRange: [71, 472], xAxisEnd: 473,
    yDomain: [2.16, 2.32], yRange: [1073, 808],
    yTicks: rgYTicks, yLabels: rgYLabels, yTickX: 58,
    xTicks: timeTicks, xLabels: timeLabels, xTickY: 1097,
    tickFont: SERIF, tickWeight: 400, tickSize: 12, tickColor: '#444',
    xTitle: { text: 'Time (nsec)', x: 286, y: 1124, font: SANS, size: 13, weight: 700 },
    yTitle: { text: 'Rg', x: 20, y: 942, font: SERIF, size: 14, weight: 400 },
    legend: { x1: 490, x2: 522, tx: 524, ys: [874, 932, 988, 1044], font: SANS, size: 12.5, weight: 400, names: [NAME_UNBOUND, NAME_SAQ, NAME_RIT, NAME_REM], colors: ['#000', '#d42020', '#22a060', '#1a1ae0'] },
    strokeWidth: 2.5, curve: d3.curveLinear, yAxisWidth: 2,
  };
  const d: Cfg = {
    label: '(d)', labelY: 1163,
    xs: hbTime,
    series: [
      { name: 'sq', values: hbSaquinivir, color: RED },
      { name: 'rt', values: hbRitonavir, color: '#17a650' },
      { name: 'rm', values: hbRemdesivir, color: '#1010cc' },
    ],
    xDomain: [0, 50], xRange: [73, 489], xAxisEnd: 489,
    yDomain: [0, 8], yRange: [1452, 1192],
    yTicks: hbYTicks, yLabels: hbYLabels, yTickX: 62,
    xTicks: timeTicks, xLabels: timeLabels, xTickY: 1474,
    tickFont: SERIF, tickWeight: 700, tickSize: 12, tickColor: '#555',
    xTitle: { text: 'Time (nsec)', x: 288, y: 1504, font: SERIF, size: 15, weight: 700 },
    yTitle: { text: 'Number of hydrogen bonds', x: 42, y: 1322, font: SERIF, size: 15, weight: 400 },
    legend: { x1: 497, x2: 528, tx: 530, ys: [1281, 1332, 1384], font: SERIF, size: 13.8, weight: 700, names: [NAME_SAQ, NAME_RIT, NAME_REM], colors: [RED, '#17a650', NAVY] },
    strokeWidth: 2.6, curve: d3.curveStepAfter, yAxisWidth: 1.5,
  };
  return (
    <svg width={727} height={1513} viewBox="0 0 727 1513" style={{ position: 'absolute', left: 0, top: 0, background: '#fff' }}>
      <rect x={0} y={0} width={727} height={1513} fill="#fff" />
      <Panel c={a} />
      <Panel c={b} />
      <Panel c={c} />
      <Panel c={d} />
    </svg>
  );
}
